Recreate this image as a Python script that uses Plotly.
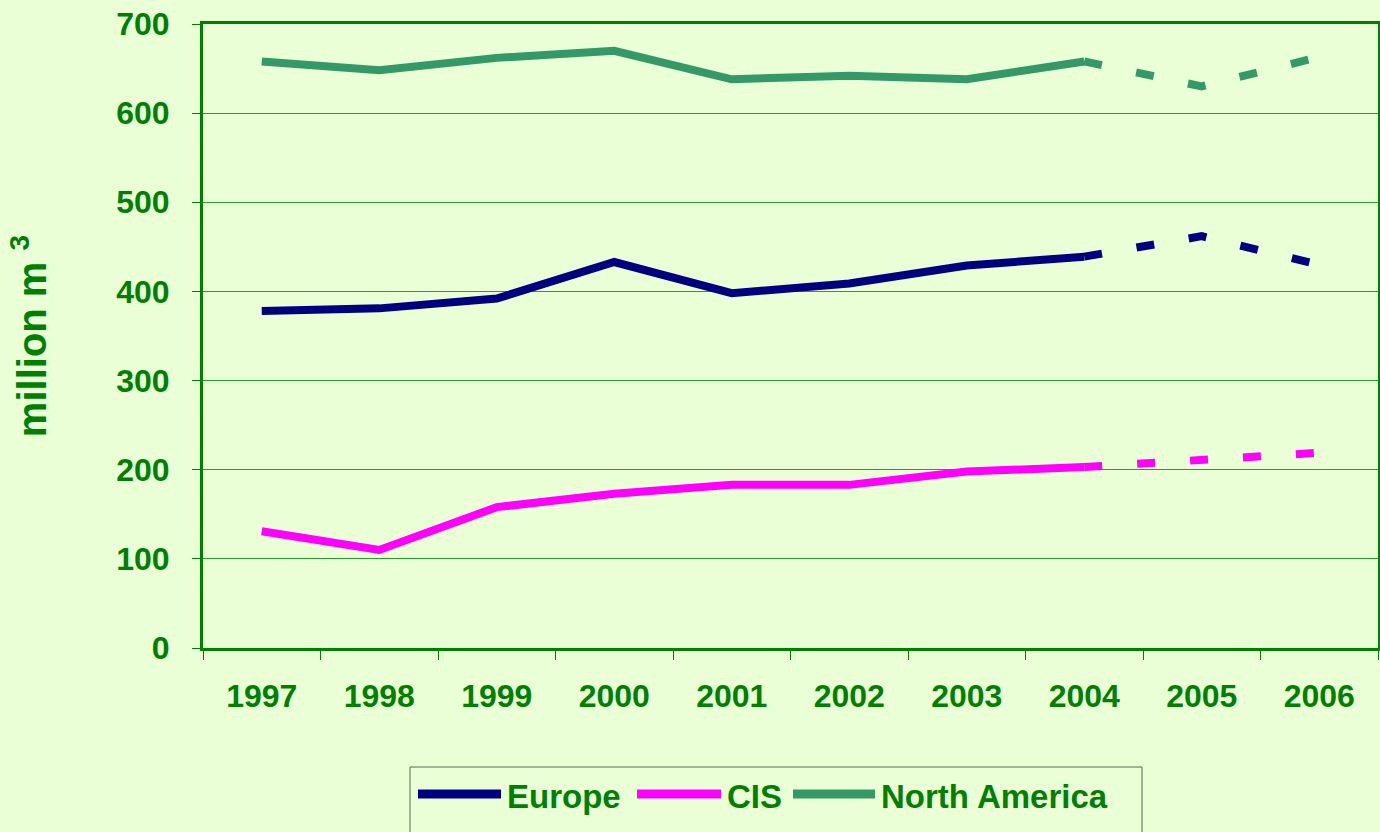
import plotly.graph_objects as go

years = ["1997", "1998", "1999", "2000", "2001", "2002", "2003", "2004", "2005", "2006"]
europe = [378, 381, 392, 433, 398, 409, 429, 439, 462, 430]
cis = [131, 110, 158, 173, 183, 183, 198, 203, 211, 219]
north_america = [658, 648, 662, 670, 638, 642, 638, 658, 630, 663]
n_actual = 8  # 1997-2004 actual (solid), 2004-2006 forecast (dashed)

names = ["Europe", "CIS", "North America"]
values = [europe, cis, north_america]
colors = ["#000080", "#FF00FF", "#339966"]

GREEN = "#008000"
BG = "#EAFFD6"
W, H = 1380, 832
ML, MR, MT, MB = 203, 2, 24, 184

fig = go.Figure()
for name, vals, col in zip(names, values, colors):
    fig.add_trace(go.Scatter(x=years[:n_actual], y=vals[:n_actual], mode="lines", name=name,
                             line=dict(color=col, width=8), showlegend=False))
for name, vals, col in zip(names, values, colors):
    fig.add_trace(go.Scatter(x=years[n_actual - 1:], y=vals[n_actual - 1:], mode="lines", name=name,
                             line=dict(color=col, width=8, dash="18px,35px"), showlegend=False))

# custom legend (pixel layout -> paper coords)
pw, ph = W - ML - MR, H - MT - MB
def px(x):
    return (x - ML) / pw
def py(y):
    return (H - MB - y) / ph

shapes = [dict(type="rect", xref="paper", yref="paper", x0=px(410), x1=px(1142), y0=py(767), y1=py(860),
               line=dict(color="#5A6A5A", width=1), fillcolor=BG, layer="below")]
annotations = []
legend_line_x = [(418, 501), (637, 721), (793, 875)]
for (x0, x1), name, col in zip(legend_line_x, names, colors):
    shapes.append(dict(type="line", xref="paper", yref="paper", x0=px(x0), x1=px(x1), y0=py(794), y1=py(794),
                       line=dict(color=col, width=9)))
    annotations.append(dict(xref="paper", yref="paper", x=px(x1 + 4), y=py(796), xanchor="left", yanchor="middle",
                            text="<b>%s</b>" % name, showarrow=False,
                            font=dict(size=33, color=GREEN, family="Liberation Sans, Arial")))

fig.update_layout(
    width=W, height=H,
    margin=dict(l=ML, r=MR, t=MT, b=MB, autoexpand=False),
    paper_bgcolor=BG, plot_bgcolor=BG,
    font=dict(family="Liberation Sans, Arial, sans-serif", color=GREEN),
    showlegend=False,
    shapes=shapes,
    annotations=annotations,
    xaxis=dict(type="category", range=[-0.5, 9.5], tickson="boundaries",
               ticks="outside", ticklen=9, tickcolor=GREEN, tickwidth=1,
               showgrid=False, showline=True, linecolor=GREEN, linewidth=3, mirror=True,
               tickfont=dict(size=32, color=GREEN, family="Liberation Sans, Arial", weight="bold"),
               ticklabelstandoff=18, zeroline=False),
    yaxis=dict(range=[0, 700], dtick=100, ticks="outside", ticklen=8, tickcolor=GREEN,
               showgrid=True, gridcolor="#2E9B2E", gridwidth=1,
               showline=True, linecolor=GREEN, linewidth=3, mirror=True, zeroline=False,
               tickfont=dict(size=32, color=GREEN, family="Liberation Sans, Arial", weight="bold"),
               ticklabelstandoff=16,
               title=dict(text="<b>million m <sup>3</sup></b>", standoff=58,
                          font=dict(size=40, color=GREEN, family="Liberation Sans, Arial"))),
)

fig.write_html("out.html", config={"displayModeBar": False},
               post_script="document.body.style.margin='0';document.body.style.overflow='hidden';")
